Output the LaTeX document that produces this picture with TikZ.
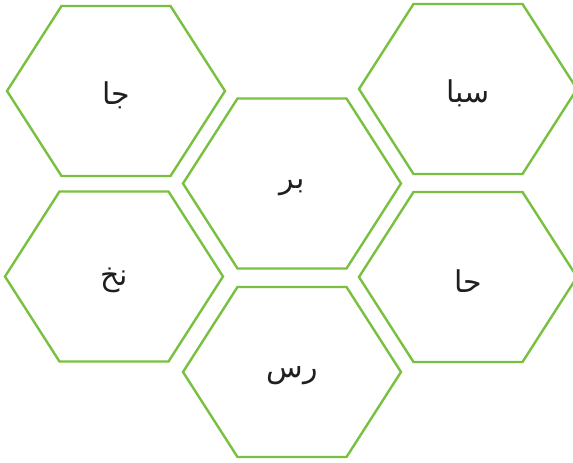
\documentclass[tikz,border=0pt]{standalone}
\usepackage{fontspec}
\newfontfamily\arabicfont[Script=Arabic]{DejaVu Sans}
\TeXXeTstate=1
\definecolor{hexgreen}{RGB}{122,192,64}
\tikzset{
  hexline/.style={draw=hexgreen, line width=2.4pt, line join=miter},
  lbl/.style={inner sep=0pt, font=\arabicfont\fontsize{30}{34}\selectfont, text=black!88}
}
\newcommand{\hexcell}[4]{%
  \coordinate (#1c) at (#2,#3);
  \node[lbl, yshift=-4pt] (#1) at (#1c) {\beginR #4\endR};
  \draw[hexline] ([xshift=-109pt]#1c) -- ++(54.5,85) -- ++(109,0) -- ++(54.5,-85) -- ++(-54.5,-85) -- ++(-109,0) -- cycle;
}
\begin{document}
\begin{tikzpicture}[x=1pt,y=-1pt]
\useasboundingbox (0,0) rectangle (573,463);
\hexcell{ja}{116}{91}{جا}
\hexcell{saba}{468}{89}{سبا}
\hexcell{bar}{292}{183.5}{بر}
\hexcell{nakh}{114}{276.5}{نخ}
\hexcell{ha}{468}{277}{حا}
\hexcell{ras}{292}{372}{رس}
\end{tikzpicture}
\end{document}
